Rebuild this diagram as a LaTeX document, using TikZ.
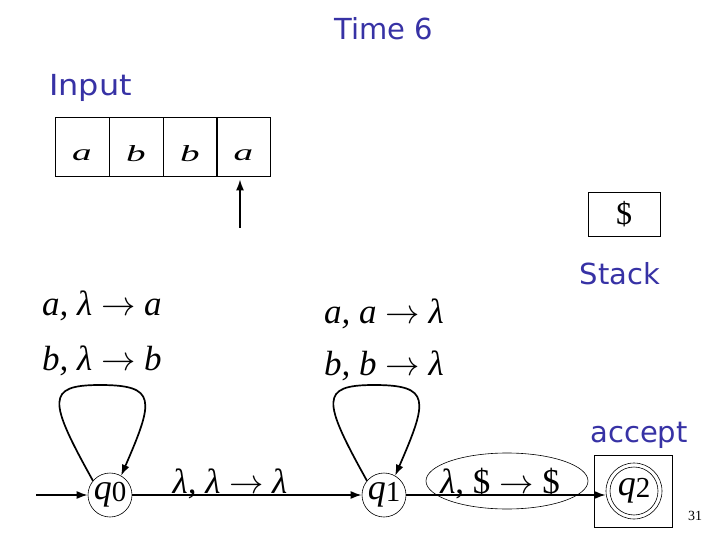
\documentclass[tikz,border=0pt]{standalone}
\usepackage{fontspec}
\setmainfont{Liberation Serif}
\newfontfamily\comicfont{DejaVu Sans}
\usetikzlibrary{arrows.meta,shapes.geometric}
\definecolor{slideblue}{RGB}{55,50,165}
\newcommand{\tapeletter}[1]{\scalebox{1.7}[1]{\itshape #1}}
\newcommand{\qsub}[2]{{\fontsize{36}{40}\selectfont\itshape #1}\raisebox{-0.22em}{\fontsize{29}{31}\selectfont #2}}
\newcommand{\arr}{\scalebox{1.38}{\(\rightarrow\)}}
\begin{document}
\begin{tikzpicture}[x=1pt,y=-1pt,
  bluetext/.style={text=slideblue,font=\comicfont\fontsize{29}{34}\selectfont,inner sep=0pt},
  cell/.style={draw,line width=0.8pt,minimum width=54pt,minimum height=59pt,inner sep=0pt},
  tapetext/.style={font=\fontsize{23}{25}\selectfont,inner sep=0pt,anchor=base},
  state/.style={circle,draw,line width=0.6pt,minimum size=44pt,inner sep=0pt},
  edge/.style={line width=1.7pt,-{Latex[length=11pt,width=8pt]}},
  trlabel/.style={font=\fontsize{35}{40}\selectfont,inner sep=0pt}]
\useasboundingbox (0,0) rectangle (720,540);
% titles
\node[bluetext,anchor=base] (time) at (384,40) {Time 6};
\node[bluetext,anchor=base west] (input) at (49,96) {\scalebox{1.1}[1]{Input}};
% tape
\node[cell] (c1) at (82,146.5) {};
\node[cell] (c2) at (136,146.5) {};
\node[cell] (c3) at (190,146.5) {};
\node[cell] (c4) at (243.5,146.5) {};
\node[tapetext] (t1) at (82,161) {\tapeletter{a}};
\node[tapetext] (t2) at (136,162) {\tapeletter{b}};
\node[tapetext] (t3) at (190,162) {\tapeletter{b}};
\node[tapetext] (t4) at (243.5,161) {\tapeletter{a}};
\coordinate (head) at (240,228);
\draw[edge,shorten >=3pt] (head) -- (head |- c4.south);
% stack
\node[draw,line width=0.8pt,minimum width=72pt,minimum height=44pt,inner sep=0pt,font=\fontsize{32}{34}\selectfont] (stack) at (624,214) {\$};
\node[bluetext,anchor=base] (stacklbl) at (620,284) {Stack};
\node[bluetext,anchor=base] (accept) at (639,442) {accept};
% transition labels
\node[trlabel,anchor=base west] (l1) at (42,315) {\itshape a, λ \arr{} a};
\node[trlabel,anchor=base west] (l2) at (42,370) {\itshape b, λ \arr{} b};
\node[trlabel,anchor=base west] (l3) at (324,323) {\itshape a, a \arr{} λ};
\node[trlabel,anchor=base west] (l4) at (324,375) {\itshape b, b \arr{} λ};
\node[trlabel,anchor=base] (l5) at (230,493) {\itshape λ, λ \arr{} λ};
% states
\node[state] (q0) at (110,495) {\qsub{q}{0}};
\node[state] (q1) at (384,495) {\qsub{q}{1}};
\node[draw,line width=0.8pt,minimum width=78pt,minimum height=72pt] (q2box) at (633,491) {};
\node[state,minimum size=56pt] (q2) at (634,491) {};
\node[state,minimum size=48pt] (q2in) at (634,491) {\qsub{q}{2}};
% ellipse highlight
\node[ellipse,draw,line width=0.6pt,minimum width=162pt,minimum height=56pt] (ell) at (507,481) {};
\node[trlabel,anchor=base] (l6) at (500,493) {\itshape λ\upshape, \$ \arr{} \$};
% edges
\coordinate (start) at (36,495);
\draw[edge] (start) -- (q0);
\draw[edge] (q0) -- (q1);
\draw[edge] (q1) -- (q1 -| q2.west);
\draw[edge] (q0.140) .. controls (48,400) and (46,385) .. (100,385) .. controls (157,385) and (154,400) .. (q0.60);
\draw[edge] (q1.140) .. controls (322,400) and (320,385) .. (374,385) .. controls (431,385) and (428,400) .. (q1.60);
\node[font=\fontsize{14}{16}\selectfont] (pg) at (695,516) {31};
\end{tikzpicture}
\end{document}
